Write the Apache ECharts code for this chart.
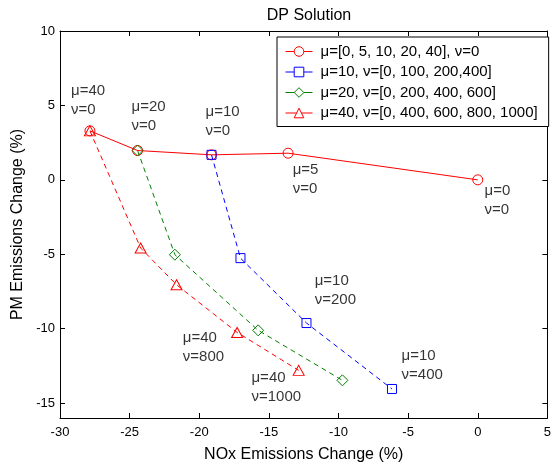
<!DOCTYPE html>
<html><head><meta charset="utf-8">
<script src="https://cdn.jsdelivr.net/npm/echarts@6/dist/echarts.min.js"></script>
<style>html,body{margin:0;padding:0;background:#fff}#c{width:554px;height:468px}</style>
</head><body><div id="c"></div>
<script>
// ---- data ----
const titleText = 'DP Solution';
const xName = 'NOx Emissions Change (%)';
const yName = 'PM Emissions Change (%)';
const xTicks = [-30, -25, -20, -15, -10, -5, 0, 5];
const yTicks = [-15, -10, -5, 0, 5, 10];
const seriesNames = [
  'μ=[0, 5, 10, 20, 40], ν=0',
  'μ=10, ν=[0, 100, 200,400]',
  'μ=20, ν=[0, 200, 400, 600]',
  'μ=40, ν=[0, 400, 600, 800, 1000]'
];
const s1X = [-27.85, -24.43, -19.12, -13.62, 0.0];
const s1Y = [3.29, 1.97, 1.68, 1.79, 0.0];
const s2X = [-19.12, -17.04, -12.3, -6.16];
const s2Y = [1.68, -5.26, -9.62, -14.05];
const s3X = [-24.43, -21.75, -15.77, -9.72];
const s3Y = [1.97, -5.03, -10.11, -13.47];
const s4X = [-27.85, -24.21, -21.63, -17.28, -12.86];
const s4Y = [3.29, -4.58, -7.05, -10.25, -12.8];
const annX = [-29.21, -24.86, -19.55, -13.29, 0.49, -11.71, -5.47, -21.18, -16.25];
const annY = [6.64, 5.57, 5.23, 1.31, -0.13, -6.17, -11.2, -9.97, -12.68];
const annText = ['μ=40\nν=0', 'μ=20\nν=0', 'μ=10\nν=0', 'μ=5\nν=0', 'μ=0\nν=0',
  'μ=10\nν=200', 'μ=10\nν=400', 'μ=40\nν=800', 'μ=40\nν=1000'];

// ---- chart ----
const FONT = '"Liberation Sans", Arial, sans-serif';
const zip = (xs, ys) => xs.map((x, i) => [x, ys[i]]);
const RED = '#ff0000', BLUE = '#0000ff', GREEN = '#008000';
const DASH = [5, 4];
const colors = [RED, BLUE, GREEN, RED];
function mkSeries(name, xs, ys, color, symbol, size, dashed) {
  return {
    name, type: 'line', data: zip(xs, ys), symbol, symbolSize: size,
    showSymbol: true, animation: false, z: 3,
    lineStyle: { color, width: 1, type: dashed ? DASH : 'solid' },
    itemStyle: { color: 'rgba(0,0,0,0)', borderColor: color, borderWidth: 1 },
    emphasis: { disabled: true }
  };
}
const axisCommonX = {
  type: 'value', min: xTicks[0], max: xTicks[xTicks.length - 1], interval: 5,
  splitLine: { show: false },
  axisLine: { show: true, onZero: false, lineStyle: { color: '#000', width: 1 } },
  axisTick: { show: true, inside: true, length: 5, lineStyle: { color: '#000' } }
};
const axisCommonY = {
  type: 'value', min: -16, max: 10,
  splitLine: { show: false },
  axisLine: { show: true, onZero: false, lineStyle: { color: '#000', width: 1 } },
  axisTick: { show: true, inside: true, length: 5, customValues: yTicks, lineStyle: { color: '#000' } }
};
const chart = echarts.init(document.getElementById('c'), null, { renderer: 'canvas' });
chart.setOption({
  animation: false,
  backgroundColor: '#fff',
  textStyle: { fontFamily: FONT },
  title: {
    text: titleText, left: 304, top: 3, textAlign: 'center',
    textStyle: { fontFamily: FONT, fontSize: 16, fontWeight: 'normal', color: '#000' }
  },
  grid: { left: 60, right: 6, top: 31, bottom: 50, containLabel: false },
  legend: {
    orient: 'vertical', left: 277, top: 37,
    backgroundColor: '#fff', borderColor: '#000', borderWidth: 1,
    padding: [7, 11, 6, 8], itemGap: 5.5, itemWidth: 27, itemHeight: 12,
    textStyle: { fontFamily: FONT, fontSize: 15, color: '#000', lineHeight: 14, padding: [0, 0, 0, 3] },
    data: seriesNames.map((n, i) => ({
      name: n,
      lineStyle: { type: 'solid', width: 1, color: colors[i] },
      itemStyle: { color: '#fff', borderColor: colors[i], borderWidth: 1 }
    })),
    selectedMode: false
  },
  xAxis: [
    Object.assign({}, axisCommonX, {
      position: 'bottom', name: xName, nameLocation: 'middle', nameGap: 29,
      nameTextStyle: { fontFamily: FONT, fontSize: 16, color: '#000' },
      axisLabel: { show: true, margin: 8, fontFamily: FONT, fontSize: 13, color: '#000',
        formatter: v => xTicks.includes(v) ? String(v) : '' }
    }),
    Object.assign({}, axisCommonX, { position: 'top', axisLabel: { show: false } })
  ],
  yAxis: [
    Object.assign({}, axisCommonY, {
      position: 'left', name: yName, nameLocation: 'middle', nameGap: 30,
      nameTextStyle: { fontFamily: FONT, fontSize: 16, color: '#000' },
      axisLabel: { show: true, margin: 5, customValues: yTicks, fontFamily: FONT, fontSize: 13, color: '#000' }
    }),
    Object.assign({}, axisCommonY, { position: 'right', axisLabel: { show: false } })
  ],
  series: [
    mkSeries(seriesNames[0], s1X, s1Y, RED, 'circle', 10, false),
    mkSeries(seriesNames[1], s2X, s2Y, BLUE, 'rect', 9, true),
    mkSeries(seriesNames[2], s3X, s3Y, GREEN, 'diamond', 11, true),
    mkSeries(seriesNames[3], s4X, s4Y, RED, 'triangle', [11, 10], true),
    {
      type: 'scatter', data: zip(annX, annY).map((p, i) => ({ value: p, label: { formatter: annText[i] } })),
      symbolSize: 0, silent: true, animation: false, z: 4,
      label: {
        show: true, position: [0, 0], align: 'left', verticalAlign: 'top',
        fontFamily: FONT, fontSize: 15, lineHeight: 19, color: '#000'
      }
    }
  ]
});
</script>
</body></html>
